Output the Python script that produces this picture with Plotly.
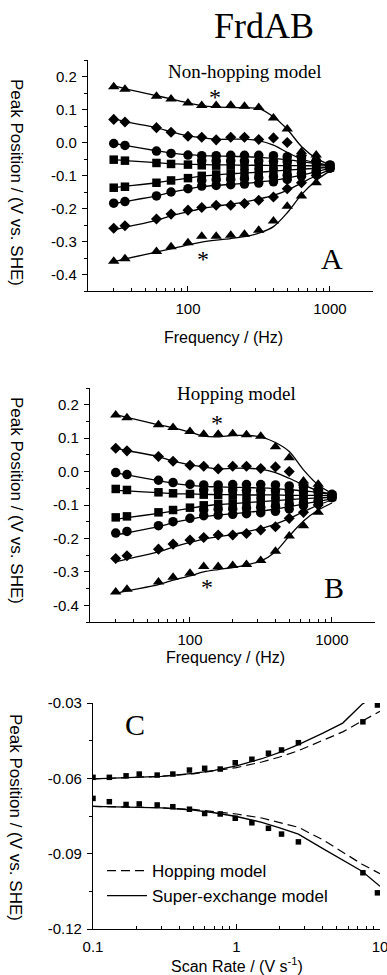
import plotly.graph_objects as go

# ---------------- data: panels A and B (frequency sweep) ----------------
freq = [30, 36, 60, 76, 100, 125, 158, 200, 250, 315, 400, 500, 630, 800, 1000]

tri_up = [0.169, 0.161, 0.140, 0.132, 0.120, 0.112, 0.112, 0.113, 0.110, 0.106, 0.074, 0.041, -0.028, -0.038, None]
dia_up = [0.070, 0.062, 0.045, 0.031, 0.019, 0.016, 0.008, 0.016, 0.016, 0.009, 0.014, 0.000, -0.040, -0.055, None]
cir_up = [-0.003, -0.009, -0.026, -0.033, -0.038, -0.040, -0.040, -0.039, -0.039, -0.039, -0.040, -0.043, -0.047, -0.055, -0.068]
mid_up = [None, None, None, None, None, -0.055, -0.055, -0.055, -0.056, -0.056, -0.057, -0.058, -0.060, -0.063, -0.070]
sq_up = [-0.052, -0.055, -0.062, -0.065, -0.067, -0.069, -0.070, -0.070, -0.070, -0.070, -0.070, -0.070, -0.070, -0.071, -0.071]
sq_lo = [-0.137, -0.134, -0.122, -0.115, -0.108, -0.101, -0.097, -0.095, -0.093, -0.090, -0.088, -0.086, -0.083, -0.080, -0.076]
mid_lo = [None, None, None, None, None, -0.115, -0.113, -0.112, -0.110, -0.107, -0.104, -0.099, -0.093, -0.086, -0.077]
cir_lo = [-0.184, -0.179, -0.162, -0.150, -0.140, -0.132, -0.130, -0.128, -0.126, -0.123, -0.119, -0.112, -0.102, -0.092, -0.078]
dia_lo = [-0.260, -0.252, -0.232, -0.217, -0.205, -0.197, -0.190, -0.190, -0.185, -0.175, -0.165, -0.140, -0.122, -0.100, None]
tri_lo = [-0.360, -0.352, -0.330, -0.316, -0.304, -0.284, -0.284, -0.281, -0.278, -0.266, -0.238, -0.193, -0.162, -0.122, None]

# model curves, panel A (non-hopping)
fitA_tri_up = [0.172, 0.163, 0.142, 0.132, 0.120, 0.112, 0.108, 0.106, 0.105, 0.103, 0.078, 0.040, -0.012, -0.048, -0.068]
fitA_dia_up = [0.072, 0.063, 0.045, 0.032, 0.020, 0.015, 0.010, 0.010, 0.010, 0.006, -0.008, -0.030, -0.050, -0.062, -0.070]
fitA_cir_up = [-0.003, -0.009, -0.025, -0.032, -0.037, -0.040, -0.041, -0.042, -0.043, -0.045, -0.048, -0.052, -0.058, -0.064, -0.070]
fitA_sq_up = [-0.052, -0.055, -0.061, -0.064, -0.066, -0.067, -0.068, -0.068, -0.069, -0.069, -0.070, -0.070, -0.070, -0.071, -0.071]
fitA_sq_lo = [-0.137, -0.133, -0.122, -0.115, -0.108, -0.102, -0.098, -0.095, -0.092, -0.090, -0.087, -0.084, -0.081, -0.078, -0.075]
fitA_cir_lo = [-0.185, -0.179, -0.162, -0.151, -0.141, -0.134, -0.130, -0.127, -0.124, -0.120, -0.115, -0.108, -0.099, -0.089, -0.078]
fitA_dia_lo = [-0.265, -0.257, -0.236, -0.222, -0.210, -0.200, -0.193, -0.187, -0.180, -0.171, -0.160, -0.145, -0.123, -0.100, -0.082]
fitA_tri_lo = [-0.362, -0.353, -0.332, -0.322, -0.310, -0.302, -0.296, -0.291, -0.285, -0.275, -0.255, -0.213, -0.158, -0.115, -0.086]

# model curves, panel B (hopping)
fitB_tri_up = [0.170, 0.162, 0.140, 0.131, 0.118, 0.106, 0.104, 0.108, 0.108, 0.104, 0.087, 0.060, 0.005, -0.040, -0.065]
fitB_dia_up = [0.070, 0.063, 0.045, 0.031, 0.020, 0.014, 0.008, 0.010, 0.010, 0.007, -0.003, -0.020, -0.040, -0.058, -0.068]
fitB_cir_up = [-0.004, -0.010, -0.027, -0.035, -0.041, -0.044, -0.046, -0.047, -0.048, -0.049, -0.051, -0.054, -0.058, -0.063, -0.069]
fitB_sq_up = [-0.056, -0.058, -0.063, -0.066, -0.067, -0.068, -0.069, -0.069, -0.070, -0.070, -0.070, -0.071, -0.071, -0.071, -0.072]
fitB_sq_lo = [-0.143, -0.138, -0.125, -0.118, -0.110, -0.103, -0.099, -0.096, -0.093, -0.090, -0.087, -0.084, -0.081, -0.079, -0.077]
fitB_cir_lo = [-0.190, -0.183, -0.165, -0.153, -0.143, -0.135, -0.130, -0.126, -0.122, -0.118, -0.112, -0.105, -0.097, -0.089, -0.082]
fitB_dia_lo = [-0.270, -0.262, -0.240, -0.226, -0.212, -0.202, -0.195, -0.188, -0.180, -0.170, -0.157, -0.140, -0.120, -0.100, -0.085]
fitB_tri_lo = [-0.365, -0.357, -0.338, -0.325, -0.312, -0.300, -0.293, -0.287, -0.279, -0.268, -0.240, -0.193, -0.148, -0.115, -0.094]

# ---------------- data: panel C (scan-rate sweep) ----------------
scan = [0.1, 0.13, 0.17, 0.21, 0.28, 0.36, 0.47, 0.6, 0.77, 0.98, 1.28, 1.67, 2.06, 2.7, 7.6, 9.6]
peak_ox = [-0.0596, -0.0596, -0.0590, -0.0583, -0.0587, -0.0583, -0.0567, -0.0560, -0.0563, -0.0538,
           -0.0524, -0.0500, -0.0487, -0.0458, -0.0375, -0.0308]
peak_red = [-0.0680, -0.0693, -0.0704, -0.0702, -0.0706, -0.0713, -0.0723, -0.0740, -0.0742, -0.0759,
            -0.0777, -0.0799, -0.0822, -0.0853, -0.0976, -0.1056]

scan_fit = [0.1, 0.2, 0.3, 0.5, 0.7, 1, 1.5, 2, 2.7, 4, 5.5, 7.5, 10]
hop_ox = [-0.0602, -0.0597, -0.0592, -0.0582, -0.0571, -0.0557, -0.0535, -0.0515, -0.0490, -0.0450, -0.0415, -0.0372, -0.0333]
hop_red = [-0.0712, -0.0714, -0.0717, -0.0724, -0.0732, -0.0742, -0.0758, -0.0775, -0.0795, -0.0845, -0.0893, -0.0942, -0.0980]
sx_ox = [-0.0602, -0.0597, -0.0592, -0.0580, -0.0568, -0.0550, -0.0522, -0.0497, -0.0466, -0.0420, -0.0380, -0.0305, -0.0260]
sx_red = [-0.0712, -0.0714, -0.0718, -0.0727, -0.0737, -0.0752, -0.0775, -0.0797, -0.0822, -0.0880, -0.0925, -0.0970, -0.1030]

# ---------------- tick labels ----------------
freq_tickvals = [100, 1000]
freq_ticktext = ["100", "1000"]
peak_tickvals = [-0.4, -0.3, -0.2, -0.1, 0.0, 0.1, 0.2]
peak_ticktext = ["-0.4", "-0.3", "-0.2", "-0.1", "0.0", "0.1", "0.2"]
scan_tickvals = [0.1, 1, 10]
scan_ticktext = ["0.1", "1", "10"]
c_tickvals = [-0.12, -0.09, -0.06, -0.03]
c_ticktext = ["-0.12", "-0.09", "-0.06", "-0.03"]

SERIF = "Liberation Serif"
SANS = "Liberation Sans"
W, H = 387, 975

fig = go.Figure()

data_series = [
    (tri_up, "triangle-up", 10), (dia_up, "diamond", 8.5), (cir_up, "circle", 9.5),
    (mid_up, "circle", 9.5), (sq_up, "square", 8.5), (sq_lo, "square", 8.5),
    (mid_lo, "circle", 9.5), (cir_lo, "circle", 9.5), (dia_lo, "diamond", 8.5),
    (tri_lo, "triangle-up", 10),
]
fitsA = [fitA_tri_up, fitA_dia_up, fitA_cir_up, fitA_sq_up, fitA_sq_lo, fitA_cir_lo, fitA_dia_lo, fitA_tri_lo]
fitsB = [fitB_tri_up, fitB_dia_up, fitB_cir_up, fitB_sq_up, fitB_sq_lo, fitB_cir_lo, fitB_dia_lo, fitB_tri_lo]

for fits, xa, ya in [(fitsA, "x", "y"), (fitsB, "x2", "y2")]:
    for f in fits:
        fig.add_trace(go.Scatter(x=freq, y=f, mode="lines", xaxis=xa, yaxis=ya,
                                 line=dict(color="black", width=1.3, shape="spline", smoothing=0.8),
                                 showlegend=False, hoverinfo="skip"))
    for vals, sym, sz in data_series:
        fig.add_trace(go.Scatter(x=freq, y=vals, mode="markers", xaxis=xa, yaxis=ya,
                                 marker=dict(symbol=sym, size=sz, color="black"),
                                 showlegend=False, hoverinfo="skip"))

# panel C
fig.add_trace(go.Scatter(x=scan_fit, y=hop_ox, mode="lines", xaxis="x3", yaxis="y3", name="Hopping model",
                         line=dict(color="black", width=1.2, dash="9px,5px"), showlegend=True, legendgroup="hop"))
fig.add_trace(go.Scatter(x=scan_fit, y=hop_red, mode="lines", xaxis="x3", yaxis="y3", name="Hopping model",
                         line=dict(color="black", width=1.2, dash="9px,5px"), showlegend=False, legendgroup="hop"))
fig.add_trace(go.Scatter(x=scan_fit, y=sx_ox, mode="lines", xaxis="x3", yaxis="y3", name="Super-exchange model",
                         line=dict(color="black", width=1.3), showlegend=True, legendgroup="sx"))
fig.add_trace(go.Scatter(x=scan_fit, y=sx_red, mode="lines", xaxis="x3", yaxis="y3", name="Super-exchange model",
                         line=dict(color="black", width=1.3), showlegend=False, legendgroup="sx"))
for vals in (peak_ox, peak_red):
    fig.add_trace(go.Scatter(x=scan, y=vals, mode="markers", xaxis="x3", yaxis="y3",
                             marker=dict(symbol="square", size=5.5, color="black"),
                             showlegend=False, hoverinfo="skip"))


def py(px):
    return 1 - px / H


tickfont = dict(family=SANS, size=15, color="black")
common_x = dict(type="log", showline=True, linecolor="black", linewidth=1.3, showgrid=False, zeroline=False,
                ticks="inside", ticklen=5, tickwidth=1, tickcolor="black", tickfont=tickfont,
                minor=dict(ticks="inside", ticklen=3, tickwidth=1, tickcolor="black", dtick="D1", showgrid=False),
                ticklabelstandoff=4, automargin=False, ticklabeloverflow="allow")
common_y = dict(showline=True, linecolor="black", linewidth=1.3, showgrid=False, zeroline=False,
                ticks="outside", ticklen=5, tickwidth=1, tickcolor="black", tickfont=tickfont,
                ticklabelstandoff=2, automargin=False)

fig.update_layout(
    width=W, height=H, margin=dict(l=0, r=0, t=0, b=0, autoexpand=False),
    paper_bgcolor="white", plot_bgcolor="white",
    xaxis=dict(common_x, domain=[88 / W, 373 / W], range=[1.296, 3.303], anchor="y",
               tickvals=freq_tickvals, ticktext=freq_ticktext),
    yaxis=dict(common_y, domain=[py(291), py(60)], range=[-0.45, 0.25], anchor="x",
               tickvals=peak_tickvals, ticktext=peak_ticktext,
               minor=dict(ticks="outside", ticklen=3, tickwidth=1, tickcolor="black", dtick=0.05, showgrid=False)),
    xaxis2=dict(common_x, domain=[90 / W, 375 / W], range=[1.296, 3.303], anchor="y2",
                tickvals=freq_tickvals, ticktext=freq_ticktext),
    yaxis2=dict(common_y, domain=[py(622), py(388)], range=[-0.45, 0.25], anchor="x2",
                tickvals=peak_tickvals, ticktext=peak_ticktext,
                minor=dict(ticks="outside", ticklen=3, tickwidth=1, tickcolor="black", dtick=0.05, showgrid=False)),
    xaxis3=dict(common_x, domain=[93 / W, 380 / W], range=[-1, 1], anchor="y3",
                tickvals=scan_tickvals, ticktext=scan_ticktext),
    yaxis3=dict(common_y, domain=[py(929), py(703)], range=[-0.12, -0.03], anchor="x3",
                tickvals=c_tickvals, ticktext=c_ticktext,
                minor=dict(ticks="outside", ticklen=3, tickwidth=1, tickcolor="black", dtick=0.015, showgrid=False)),
    legend=dict(x=102 / W, y=py(853), xanchor="left", yanchor="top", bgcolor="rgba(0,0,0,0)",
                font=dict(family=SANS, size=17, color="black"), itemwidth=40, tracegroupgap=0,
                traceorder="normal"),
)

ann = []


def text(s, x, y, fam, size, angle=0):
    ann.append(dict(text=s, x=x / W, y=py(y), xref="paper", yref="paper", showarrow=False,
                    font=dict(family=fam, size=size, color="black"), textangle=angle,
                    xanchor="center", yanchor="middle"))


text("FrdAB", 264, 26, SERIF, 36)
text("Non-hopping model", 245, 71, SERIF, 19)
text("A", 332, 258, SERIF, 30)
text("Hopping model", 236, 393, SERIF, 19)
text("B", 334, 587, SERIF, 30)
text("C", 135, 724, SERIF, 30)
for yc in (182, 500, 817):
    text("Peak Position / (V vs. SHE)", 16, yc, SANS, 17, 90)
text("Frequency / (Hz)", 223, 337, SANS, 16)
text("Frequency / (Hz)", 225, 657, SANS, 16)
text("Scan Rate / (V s<sup>-1</sup>)", 237, 965, SANS, 16)
# asterisks marking deviations
for x, y in [(215, 97), (203, 259), (217, 423), (207, 587)]:
    text("*", x, y, SERIF, 24)

fig.update_layout(annotations=ann)
fig.write_html("out.html", config={"displayModeBar": False},
               post_script="document.body.style.margin='0';document.body.style.padding='0';"
                           "document.documentElement.style.overflow='hidden';")
